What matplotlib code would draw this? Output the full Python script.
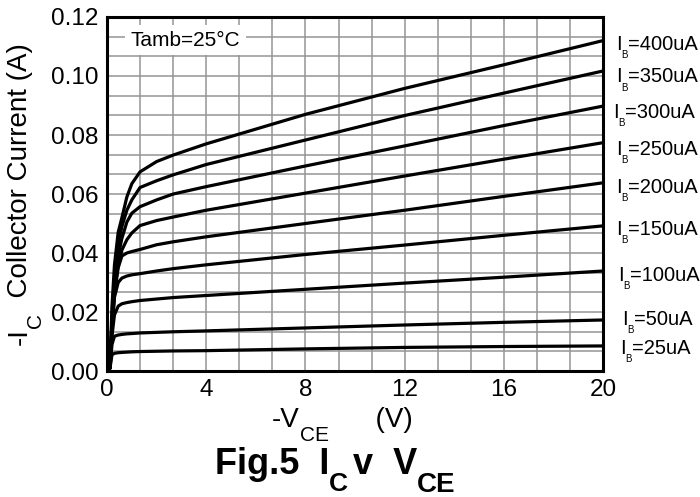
import matplotlib
matplotlib.use("Agg")
import matplotlib.pyplot as plt
from matplotlib.ticker import MultipleLocator

plt.rcParams['font.family'] = ['Liberation Sans', 'DejaVu Sans']

# -VCE sample points (V)
vce = [0.12, 0.2, 0.3, 0.45, 0.6, 0.8, 1.0, 1.33, 2.0, 2.67, 4, 8, 12, 16, 20]

# -IC (A) for each base current
ic_400 = [0.001, 0.022, 0.036, 0.047, 0.052, 0.059, 0.0635, 0.0675, 0.071, 0.0732, 0.077, 0.087, 0.0958, 0.1038, 0.112]
ic_350 = [0.001, 0.019, 0.032, 0.043, 0.049, 0.0545, 0.058, 0.0622, 0.0645, 0.0665, 0.070, 0.0783, 0.0866, 0.0942, 0.1017]
ic_300 = [0.001, 0.017, 0.029, 0.039, 0.045, 0.0505, 0.0535, 0.0557, 0.058, 0.060, 0.0625, 0.0695, 0.0763, 0.0832, 0.0898]
ic_250 = [0.001, 0.016, 0.027, 0.036, 0.041, 0.0445, 0.0468, 0.0493, 0.051, 0.0522, 0.0545, 0.0603, 0.0661, 0.0718, 0.0774]
ic_200 = [0.001, 0.015, 0.026, 0.035, 0.039, 0.040, 0.0405, 0.0412, 0.0428, 0.0438, 0.0455, 0.050, 0.0545, 0.0592, 0.0638]
ic_150 = [0.001, 0.014, 0.025, 0.030, 0.0315, 0.0322, 0.0326, 0.033, 0.0339, 0.0347, 0.036, 0.0395, 0.0427, 0.046, 0.0492]
ic_100 = [0.001, 0.012, 0.019, 0.022, 0.0228, 0.0232, 0.0235, 0.0239, 0.0244, 0.0249, 0.0256, 0.0277, 0.0298, 0.0318, 0.0339]
ic_50 = [0.001, 0.009, 0.0118, 0.0122, 0.0124, 0.0126, 0.0127, 0.0129, 0.0131, 0.0133, 0.0136, 0.0146, 0.0156, 0.0165, 0.0173]
ic_25 = [0.001, 0.0055, 0.006, 0.0062, 0.0063, 0.0064, 0.0065, 0.0066, 0.0067, 0.0068, 0.0069, 0.0075, 0.0080, 0.0083, 0.0085]

curves = [ic_400, ic_350, ic_300, ic_250, ic_200, ic_150, ic_100, ic_50, ic_25]
ib_labels = ["=400uA", "=350uA", "=300uA", "=250uA", "=200uA", "=150uA", "=100uA", "=50uA", "=25uA"]
# where the IB tags sit: height (A) and gap right of the frame (px)
label_y = [0.1114, 0.1003, 0.0882, 0.0758, 0.0628, 0.0486, 0.0329, 0.0181, 0.0082]
label_dx = [13, 13, 10, 13, 13, 13, 15, 19, 17]

PX = 72 / 100  # points per pixel


def rich_text(ax, xy, coords, pieces, rot=0, offset=(0, 0), weight="normal", gap=0.0):
    """Write text pieces one after another; pieces flagged True are dropped
    below the baseline as subscripts. An optional 4th item nudges a piece
    along the line (points)."""
    kw = dict(rotation=rot, rotation_mode="anchor", fontweight=weight,
              annotation_clip=False, ha="left", textcoords="offset points")
    first = prev = None
    desc = 0.21 * pieces[0][1]
    for piece in pieces:
        txt, fs, is_sub = piece[:3]
        nudge = piece[3] if len(piece) > 3 else 0
        if first is None:
            t = ax.annotate(txt, xy=xy, xycoords=coords, xytext=offset,
                            va="baseline", fontsize=fs, **kw)
            first = t
        else:
            drop = (desc - gap) if is_sub else 0
            if rot == 0:
                anchor, ref = (1, 0), (prev, first)
                shift = (nudge, drop)
            else:
                anchor, ref = (1, 1), (first, prev)
                shift = (-drop, nudge)
            t = ax.annotate(txt, xy=anchor, xycoords=ref, xytext=shift,
                            va="top" if is_sub else "bottom", fontsize=fs, **kw)
        prev = t


fig = plt.figure(figsize=(7, 4.97), dpi=100)
ax = fig.add_axes([0.1529, 0.2535, 0.7086, 0.7123])

for ic in curves:
    ax.plot(vce, ic, color="black", lw=2.3, solid_capstyle="round", zorder=3)

for lab, ly, dx in zip(ib_labels, label_y, label_dx):
    rich_text(ax, (1, ly), ("axes fraction", "data"),
              [("I", 14.5, False), ("B", 7, True), (lab, 14.5, False)],
              offset=(dx * PX, -5.2), gap=0.3)

ax.set_xlim(0, 20)
ax.set_ylim(0, 0.12)
ax.xaxis.set_major_locator(MultipleLocator(4))
ax.xaxis.set_minor_locator(MultipleLocator(4 / 3))
ax.yaxis.set_major_locator(MultipleLocator(0.02))
ax.yaxis.set_minor_locator(MultipleLocator(0.02 / 3))
ax.set_yticklabels([f"{v:.2f}" for v in ax.get_yticks()])
ax.grid(which="both", color="#959595", lw=1.1, zorder=0)
ax.tick_params(which="both", length=0, labelsize=17.5, pad=6)
for s in ax.spines.values():
    s.set_linewidth(2.2)
    s.set_zorder(4)

ax.text(0.158, 0.934, "Tamb=25°C", transform=ax.transAxes, fontsize=15,
        ha="center", va="center", zorder=5,
        bbox=dict(facecolor="white", edgecolor="none", pad=4))

# axis titles and caption
rich_text(ax, (27 / 700, 1 - 345 / 497), "figure fraction",
          [("-I", 20, False), ("C", 15, True), ("  Collector Current (A)", 20, False)],
          rot=90, gap=-1.0)
rich_text(ax, (272 / 700, 1 - 427 / 497), "figure fraction",
          [("-V", 20, False), ("CE", 15, True), ("      (V)", 20, False)], gap=-0.8)
rich_text(ax, (215 / 700, 1 - 474 / 497), "figure fraction",
          [("Fig.5  I", 26, False), ("C", 19, True), ("v  V", 26, False, 3),
           ("CE", 20, True)],
          weight="bold", gap=-1.8)

fig.savefig("out.png", dpi=100)
